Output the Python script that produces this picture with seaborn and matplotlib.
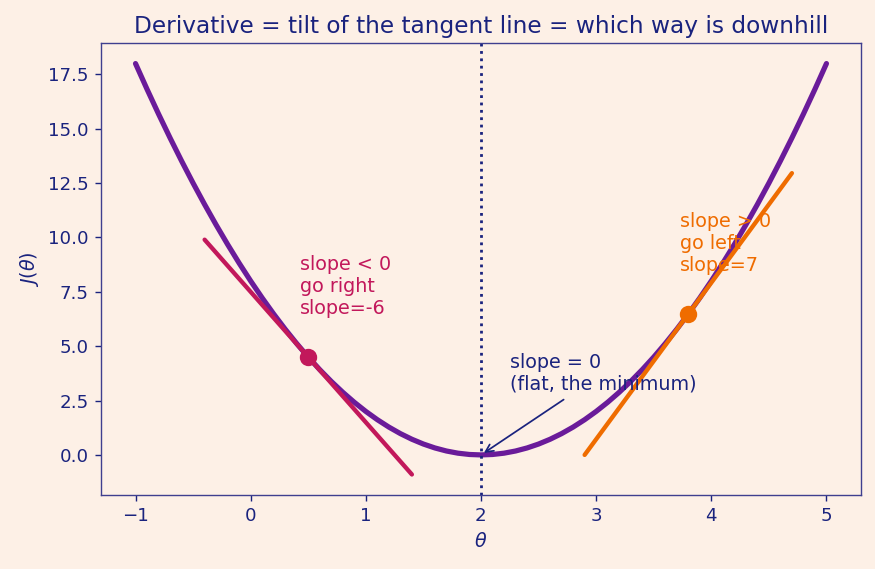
import numpy as np
import pandas as pd
import seaborn as sns
from matplotlib import pyplot as plt

# curve J(theta) (left half, the right half mirrors it about theta=2)
theta_left = [-1.0, -0.9, -0.8, -0.7, -0.6, -0.5, -0.4, -0.3, -0.2, -0.1, 0.0, 0.1, 0.2, 0.3, 0.4,
              0.5, 0.6, 0.7, 0.8, 0.9, 1.0, 1.1, 1.2, 1.3, 1.4, 1.5, 1.6, 1.7, 1.8, 1.9, 2.0]
cost_left = [18.0, 16.82, 15.68, 14.58, 13.52, 12.5, 11.52, 10.58, 9.68, 8.82, 8.0, 7.22, 6.48, 5.78, 5.12,
             4.5, 3.92, 3.38, 2.88, 2.42, 2.0, 1.62, 1.28, 0.98, 0.72, 0.5, 0.32, 0.18, 0.08, 0.02, 0.0]
theta_right = [2.1, 2.2, 2.3, 2.4, 2.5, 2.6, 2.7, 2.8, 2.9, 3.0, 3.1, 3.2, 3.3, 3.4, 3.5,
               3.6, 3.7, 3.8, 3.9, 4.0, 4.1, 4.2, 4.3, 4.4, 4.5, 4.6, 4.7, 4.8, 4.9, 5.0]
cost_right = [0.02, 0.08, 0.18, 0.32, 0.5, 0.72, 0.98, 1.28, 1.62, 2.0, 2.42, 2.88, 3.38, 3.92, 4.5,
              5.12, 5.78, 6.48, 7.22, 8.0, 8.82, 9.68, 10.58, 11.52, 12.5, 13.52, 14.58, 15.68, 16.82, 18.0]

# the two tangent points and their lines
left_pt = (0.5, 4.5)
left_line_x = [-0.4, 1.4]
left_line_y = [9.9, -0.9]
right_pt = (3.8, 6.48)
right_line_x = [2.9, 4.7]
right_line_y = [0.0, 12.96]
minimum = (2.0, 0.0)

bg = "#fdf0e6"
navy = "#1a237e"
purple = "#6a1b9a"
red = "#c2185b"
orange = "#ef6c00"

sns.set_style("white", {"axes.facecolor": bg, "figure.facecolor": bg,
                        "axes.edgecolor": "#3f3f8f", "xtick.bottom": True, "ytick.left": True})
plt.rcParams["font.family"] = ["DejaVu Sans"]
plt.rcParams["font.size"] = 11
plt.rcParams["xtick.labelsize"] = 10.5
plt.rcParams["ytick.labelsize"] = 10.5
plt.rcParams["text.color"] = navy
plt.rcParams["axes.labelcolor"] = navy
plt.rcParams["xtick.color"] = navy
plt.rcParams["ytick.color"] = navy

fig, ax = plt.subplots(figsize=(7, 4.552), dpi=125)
fig.subplots_adjust(left=0.1154, right=0.984, top=0.9244, bottom=0.130)
df = pd.DataFrame({"theta": theta_left + theta_right, "J": cost_left + cost_right})
sns.lineplot(data=df, x="theta", y="J", color=purple, lw=3, ax=ax)

ax.axvline(minimum[0], color=navy, ls=":", lw=1.6)

sns.lineplot(x=left_line_x, y=left_line_y, color=red, lw=2.5, ax=ax)
ax.plot(*left_pt, "o", color=red, ms=9)
ax.text(left_pt[0] - 0.07, left_pt[1] + 2, "slope < 0\ngo right\nslope=-6", color=red, fontsize=11)

sns.lineplot(x=right_line_x, y=right_line_y, color=orange, lw=2.5, ax=ax)
ax.plot(*right_pt, "o", color=orange, ms=9)
ax.text(right_pt[0] - 0.07, right_pt[1] + 2, "slope > 0\ngo left\nslope=7", color=orange, fontsize=11)

ax.annotate("slope = 0\n(flat, the minimum)", xy=minimum, xytext=(2.25, 3.0),
            color=navy, fontsize=11,
            arrowprops=dict(arrowstyle="->", color=navy, lw=1))

ax.set_title("Derivative = tilt of the tangent line = which way is downhill", fontsize=13.4, color=navy)
ax.set_xlabel(r"$\theta$")
ax.set_ylabel(r"$J(\theta)$")
for s in ax.spines.values():
    s.set_color("#3f3f8f")

plt.savefig("out.png", dpi=125, facecolor=bg)
